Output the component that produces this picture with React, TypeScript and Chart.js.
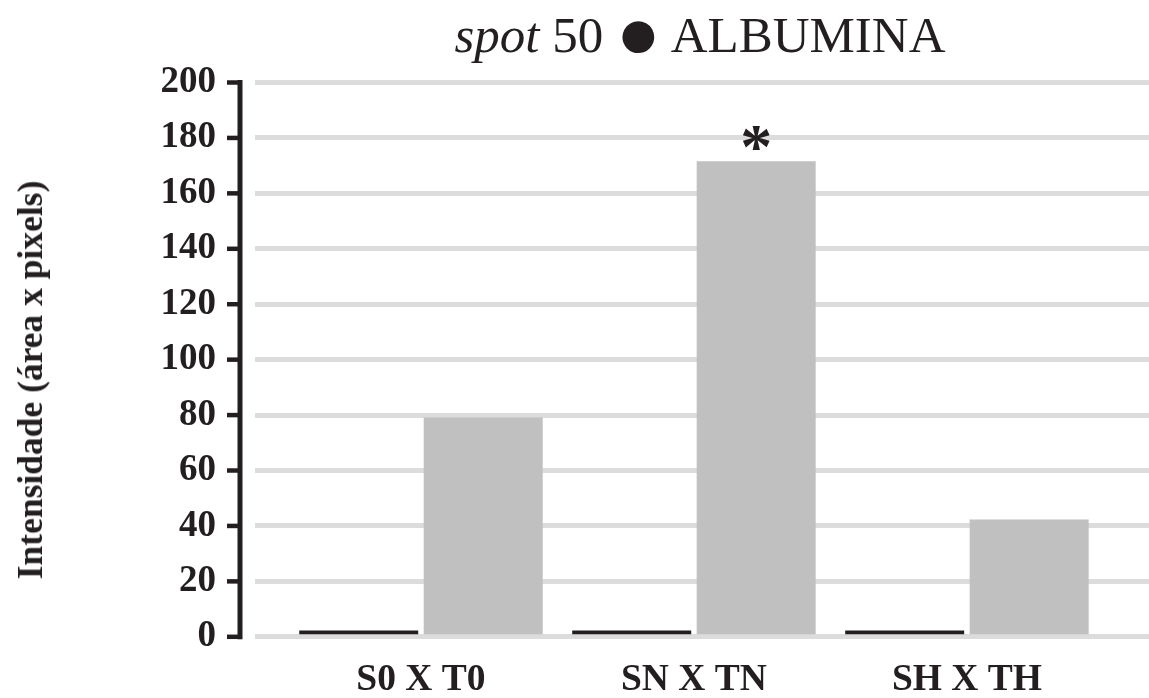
import React, { useEffect, useRef } from 'react';
import { Chart, registerables } from 'chart.js';

Chart.register(...registerables);

// ---- data ----
const categories = ['S0 X T0', 'SN X TN', 'SH X TH'];
const controlValues = [2.3, 2.3, 2.3];
const treatedValues = [79.1, 171.6, 42.3];
const significance = ['', '*', ''];
const yTickValues = [0, 20, 40, 60, 80, 100, 120, 140, 160, 180, 200];
const yMin = 0;
const yMax = 200;
const xMin = -0.608;
const xMax = 2.667;
const titleItalic = 'spot';
const titleNumber = ' 50 ';
const titleDot = '●';
const titleName = ' ALBUMINA';
const yAxisTitle = 'Intensidade (área x pixels)';

// ---- styles ----
const INK = '#231f20';
const GRID = '#dcdcdc';
const BAR_GRAY = '#c0c0c0';
const SERIF = '"Liberation Serif", "Times New Roman", Times, serif';
const W = 1149;
const H = 698;

const axisPlugin = {
  id: 'leftAxisAndMarks',
  afterDatasetsDraw(chart: any) {
    const { ctx, chartArea, scales } = chart;
    const y = scales.y;
    const axisX = chartArea.left - 15;
    const top = y.getPixelForValue(yMax);
    const bottom = y.getPixelForValue(yMin);
    ctx.save();
    ctx.strokeStyle = INK;
    ctx.lineWidth = 5;
    ctx.beginPath();
    ctx.moveTo(axisX, top - 2.5);
    ctx.lineTo(axisX, bottom + 2.5);
    ctx.stroke();
    ctx.lineWidth = 4.5;
    for (const v of yTickValues) {
      const py = y.getPixelForValue(v);
      ctx.beginPath();
      ctx.moveTo(axisX - 13, py);
      ctx.lineTo(axisX + 2, py);
      ctx.stroke();
    }
    const meta = chart.getDatasetMeta(1);
    ctx.fillStyle = INK;
    ctx.font = `bold 64px ${SERIF}`;
    ctx.textAlign = 'center';
    ctx.textBaseline = 'alphabetic';
    meta.data.forEach((bar: any, i: number) => {
      if (significance[i]) ctx.fillText(significance[i], bar.x, bar.y + 7);
    });
    ctx.restore();
  },
};

export default function App() {
  const canvasRef = useRef<HTMLCanvasElement | null>(null);

  useEffect(() => {
    if (!canvasRef.current) return;
    const chart = new Chart(canvasRef.current, {
      type: 'bar',
      data: {
        datasets: [
          {
            label: 'Controle',
            data: controlValues.map((v, i) => ({ x: i, y: v })),
            backgroundColor: INK,
            borderWidth: 0,
            categoryPercentage: 0.912,
            barPercentage: 0.956,
          },
          {
            label: 'Tratado',
            data: treatedValues.map((v, i) => ({ x: i, y: v })),
            backgroundColor: BAR_GRAY,
            borderWidth: 0,
            categoryPercentage: 0.912,
            barPercentage: 0.956,
          },
        ],
      },
      options: {
        animation: false,
        responsive: false,
        layout: { padding: { top: 82.5, left: 0, right: 0, bottom: 0 } },
        plugins: {
          legend: { display: false },
          tooltip: { enabled: false },
          title: { display: false },
        },
        scales: {
          x: {
            type: 'linear',
            offset: false,
            min: xMin,
            max: xMax,
            grid: { display: false, offset: false },
            border: { display: false },
            afterBuildTicks: (scale: any) => {
              scale.ticks = categories.map((_, i) => ({ value: i }));
            },
            afterFit: (scale: any) => {
              scale.height = 55.5;
            },
            ticks: {
              autoSkip: false,
              maxRotation: 0,
              padding: 13,
              color: INK,
              font: { family: SERIF, size: 37.5, weight: 'bold' },
              callback: (v: any) => categories[v] ?? '',
            },
          },
          y: {
            min: yMin,
            max: yMax,
            afterBuildTicks: (scale: any) => {
              scale.ticks = yTickValues.map((v) => ({ value: v }));
            },
            afterFit: (scale: any) => {
              scale.width = 255;
            },
            grid: { color: GRID, lineWidth: 5, drawTicks: false },
            border: { display: false },
            ticks: {
              padding: 39,
              color: INK,
              font: { family: SERIF, size: 37, weight: 'bold' },
            },
          },
        },
      },
      plugins: [axisPlugin],
    } as any);
    return () => chart.destroy();
  }, []);

  return (
    <div style={{ position: 'absolute', left: 0, top: 0, width: W, height: H, background: '#fff' }}>
      <canvas ref={canvasRef} width={W} height={H} style={{ display: 'block' }} />
      <div
        style={{
          position: 'absolute',
          left: 300,
          top: 7,
          width: 800,
          textAlign: 'center',
          fontFamily: SERIF,
          fontSize: 51,
          lineHeight: '52px',
          color: INK,
          whiteSpace: 'nowrap',
        }}
      >
        <i>{titleItalic}</i>
        {titleNumber}
        <span style={{ fontSize: 74, lineHeight: '40px', position: 'relative', top: 6 }}>{titleDot}</span>
        {titleName}
      </div>
      <div
        style={{
          position: 'absolute',
          left: 30,
          top: 380,
          transform: 'translate(-50%, -50%) rotate(-90deg)',
          fontFamily: SERIF,
          fontSize: 35.5,
          fontWeight: 'bold',
          lineHeight: '36px',
          color: INK,
          whiteSpace: 'nowrap',
        }}
      >
        {yAxisTitle}
      </div>
    </div>
  );
}
